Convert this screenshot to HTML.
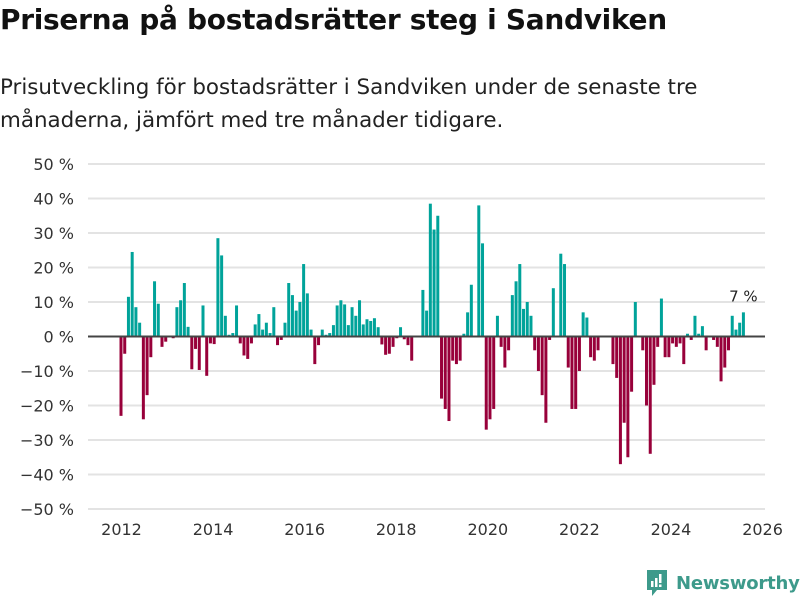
<!DOCTYPE html>
<html><head><meta charset="utf-8">
<style>
body{margin:0;background:#fff;font-family:"DejaVu Sans","Liberation Sans",sans-serif;}
#wrap{position:relative;width:800px;height:600px;overflow:hidden;}
h1{position:absolute;left:0;top:3px;margin:0;font-size:28px;font-weight:bold;color:#111;letter-spacing:-0.3px;}
p.sub{position:absolute;left:0;top:71px;margin:0;font-size:21.4px;line-height:33px;color:#222;width:798px;}
svg text{font-family:"DejaVu Sans","Liberation Sans",sans-serif;}
</style></head><body>
<div id="wrap">
<h1>Priserna på bostadsrätter steg i Sandviken</h1>
<p class="sub">Prisutveckling för bostadsrätter i Sandviken under de senaste tre månaderna, jämfört med tre månader tidigare.</p>
<svg id="chart" width="800" height="600" style="position:absolute;left:0;top:0"></svg>
<div style="position:absolute;left:645px;top:569px;display:flex;align-items:center">
<svg width="24" height="28" viewBox="0 0 24 28"><path d="M2 1h20v20H12l-5 6v-6H2z" fill="#3d9a8b"/><rect x="6" y="12" width="2.5" height="6" fill="#fff"/><rect x="10" y="9" width="2.5" height="9" fill="#fff"/><rect x="14" y="5" width="2.5" height="9" fill="#fff"/><rect x="14" y="15.5" width="2.5" height="2.5" fill="#fff"/></svg>
<span style="font-family:'DejaVu Sans','Liberation Sans',sans-serif;font-size:18px;font-weight:bold;color:#3d9a8b;margin-left:7px;letter-spacing:-0.2px">Newsworthy</span>
</div>
</div>
<script>
const startYear = 2012;
const values = [
-23,-5,11.5,24.5,8.5,4,-24,-17,-6,16,9.5,-3,-1.5,0,-0.5,8.5,10.5,15.5,2.8,-9.5,-3.6,-9.7,9,-11.4,-2,-2.2,28.5,23.5,6,0.5,1,9,-2,-5.5,-6.5,-2,3.5,6.5,2,
4,1,8.5,-2.5,-1,4,15.5,12,7.5,10,21,12.5,2,-8,-2.5,2,0.5,1,3.3,9,10.5,9.3,3.3,8.5,6,10.5,3.5,5,4.5,5.3,2.7,-2.3,-5.3,-5,-3,-0.5,2.7,-0.8,-2.5,-7,
0,0,
13.5,7.5,38.5,31,35,-18,-21,-24.5,-7,-8,-7,0.8,7,15,0,38,27,-27,-24,-21,6,-3,-9,-4,12,16,21,8,10,6,-4,-10,-17,-25,-1,14,0,24,21,-9,-21,-21,-10,
7,5.5,-6,-7,-4,0,0,0,-8,-12,-37,-25,-35,-16,10,0,-4,-20,-34,-14,-3,11,-6,-6,-2,-3,-2,-8,0.8,-1,6,0.8,3,-4,0,-1,-3,-13,-9,-4,6,2,4,7
];
const categories = values.map((v,i)=> (startYear+Math.floor(i/12))+'-'+String(i%12+1).padStart(2,'0'));
const yTicks = [50,40,30,20,10,0,-10,-20,-30,-40,-50];
const xTicks = [2012,2014,2016,2018,2020,2022,2024,2026];
const lastLabel = '7 %';

const NS='http://www.w3.org/2000/svg';
const svg=document.getElementById('chart');
function y(v){return 336.5 - v*3.45;}
function xYear(yr){return 121.5 + (yr-2012)*45.79;}
function xBar(i){return 119.5 + i*3.727;}
function mk(t,a){const e=document.createElementNS(NS,t);for(const k in a)e.setAttribute(k,a[k]);svg.appendChild(e);return e;}

yTicks.forEach(t=>{
  const g=mk('line',{x1:88,x2:765,y1:y(t),y2:y(t),stroke:'#e3e3e3','stroke-width':2});
  
  
  const tx=mk('text',{x:74,y:y(t)+6,'text-anchor':'end','font-size':16,fill:'#333'});
  tx.textContent=(t<0?'−'+(-t):t)+' %';
  
  
});
values.forEach((v,i)=>{
  if(v===0)return;
  const top=Math.min(y(v),y(0)), h=Math.abs(y(v)-y(0));
  const r=mk('rect',{x:xBar(i),y:top,width:3,height:h,fill:v>0?'#00a39a':'#98003a'});
  
  
});
const zl=mk('line',{x1:88,x2:765,y1:y(0),y2:y(0),stroke:'#444','stroke-width':2});


xTicks.forEach(t=>{
  const tx=mk('text',{x:xYear(t),y:535,'text-anchor':'middle','font-size':16,fill:'#333'});
  tx.textContent=t;
  
  
});
const li=values.length-1;
const lbl=mk('text',{x:xBar(li)+1.5,y:y(values[li])-11,'text-anchor':'middle','font-size':15,fill:'#222'});
lbl.textContent=lastLabel;


</script>
</body></html>
